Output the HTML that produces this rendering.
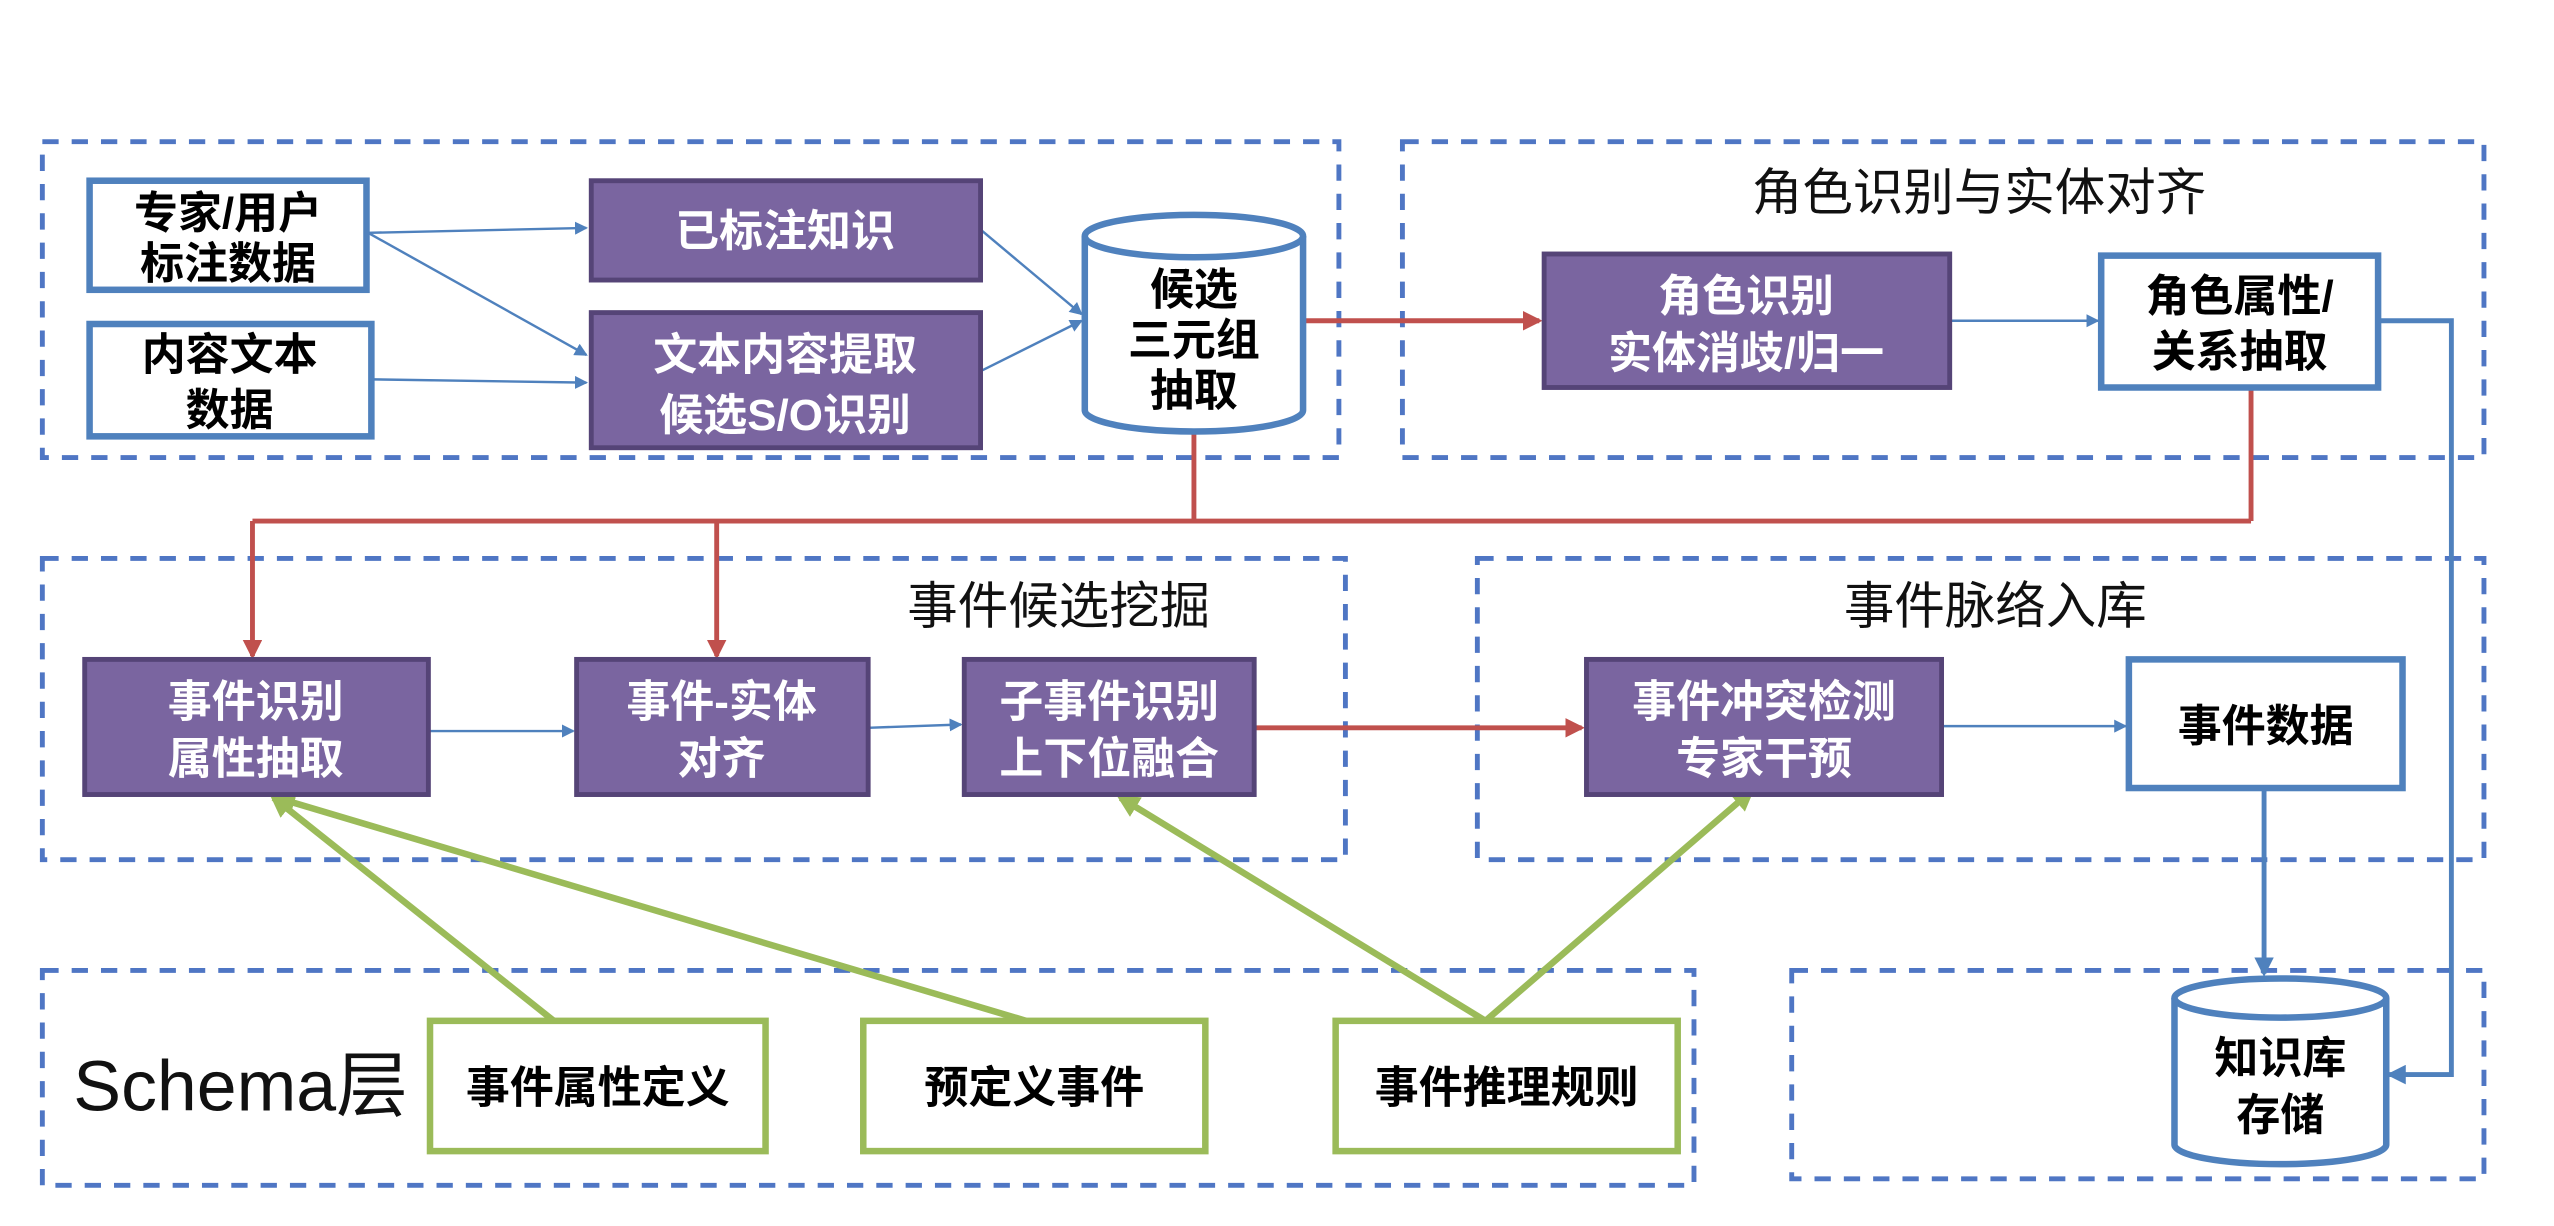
<!DOCTYPE html>
<html><head><meta charset="utf-8"><style>
html,body{margin:0;padding:0;background:#fff;}
svg{display:block;}
text{font-family:"Liberation Sans","Noto Sans CJK SC",sans-serif;}
.b{font-weight:bold;font-size:27px;text-anchor:middle;}
.w{fill:#fff;}
.t{font-size:31px;text-anchor:middle;fill:#111;}
</style></head><body>
<svg width="2554" height="1226" viewBox="0 0 1568 753" preserveAspectRatio="none" xmlns="http://www.w3.org/2000/svg">
<defs>
<marker id="ab" markerWidth="8" markerHeight="8" refX="7" refY="4" orient="auto" markerUnits="userSpaceOnUse"><path d="M0,0 L8,4 L0,8 z" fill="#4f81bd"/></marker>
<marker id="ab2" markerWidth="12" markerHeight="12" refX="10" refY="6" orient="auto" markerUnits="userSpaceOnUse"><path d="M0,0 L12,6 L0,12 z" fill="#4f81bd"/></marker>
<marker id="ar" markerWidth="12" markerHeight="12" refX="10" refY="6" orient="auto" markerUnits="userSpaceOnUse"><path d="M0,0 L12,6 L0,12 z" fill="#c0504d"/></marker>
<marker id="ag" markerWidth="14" markerHeight="14" refX="11" refY="7" orient="auto" markerUnits="userSpaceOnUse"><path d="M0,0 L14,7 L0,14 z" fill="#9bbb59"/></marker>
</defs>
<g fill="none" stroke="#4f76c4" stroke-width="3" stroke-dasharray="10,8">
<rect x="26" y="87" width="796" height="194"/>
<rect x="861" y="87" width="664" height="194"/>
<rect x="26" y="343" width="800" height="185"/>
<rect x="907" y="343" width="618" height="185"/>
<rect x="26" y="596" width="1014" height="132"/>
<rect x="1100" y="596" width="425" height="128"/>
</g>
<text x="1215" y="129" class="t">角色识别与实体对齐</text>
<text x="650" y="383" class="t">事件候选挖掘</text>
<text x="1225" y="383" class="t">事件脉络入库</text>
<text x="45" y="682" font-size="44" fill="#111">Schema层</text>

<g stroke="#4f81bd" stroke-width="1.5" fill="none" marker-end="url(#ab)">
<line x1="226" y1="143" x2="360" y2="140"/>
<line x1="226" y1="143" x2="360" y2="218"/>
<line x1="229" y1="233" x2="360" y2="235"/>
<line x1="602" y1="141" x2="664" y2="193"/>
<line x1="602" y1="228" x2="664" y2="197"/>
<line x1="263" y1="449" x2="352" y2="449"/>
<line x1="533" y1="447" x2="590" y2="445"/>
<line x1="1192" y1="446" x2="1305" y2="446"/>
<line x1="1197" y1="197" x2="1288" y2="197"/>
</g>
<g stroke="#4f81bd" stroke-width="3" fill="none" marker-end="url(#ab2)">
<line x1="1390" y1="484" x2="1390" y2="598"/>
<polyline points="1460,197 1505,197 1505,660 1467,660"/>
</g>
<g stroke="#c0504d" stroke-width="3" fill="none">
<line x1="800" y1="197" x2="945" y2="197" marker-end="url(#ar)"/>
<line x1="733" y1="265" x2="733" y2="320"/>
<line x1="1382" y1="238" x2="1382" y2="320"/>
<line x1="155" y1="320" x2="1382" y2="320"/>
<line x1="155" y1="320" x2="155" y2="403" marker-end="url(#ar)"/>
<line x1="440" y1="320" x2="440" y2="403" marker-end="url(#ar)"/>
<line x1="770" y1="447" x2="971" y2="447" marker-end="url(#ar)"/>
</g>
<g stroke="#9bbb59" stroke-width="4" fill="none" marker-end="url(#ag)">
<line x1="340" y1="627" x2="168" y2="490"/>
<line x1="630" y1="627" x2="170" y2="490"/>
<line x1="912" y1="627" x2="688" y2="490"/>
<line x1="912" y1="627" x2="1075" y2="486"/>
</g>

<g fill="#fff" stroke="#4f81bd" stroke-width="4">
<rect x="55" y="111" width="170" height="67"/>
<rect x="55" y="199" width="173" height="69"/>
<rect x="1290" y="157" width="170" height="81"/>
<rect x="1307" y="405" width="168" height="79"/>
</g>
<text class="b" x="140" y="140">专家/用户</text><text class="b" x="140" y="171">标注数据</text>
<text class="b" x="141" y="227">内容文本</text><text class="b" x="141" y="261">数据</text>
<text class="b" x="1375" y="191">角色属性/</text><text class="b" x="1375" y="225">关系抽取</text>
<text class="b" x="1391" y="455">事件数据</text>

<g fill="#7a65a0" stroke="#554477" stroke-width="3">
<rect x="363" y="111" width="239" height="61"/>
<rect x="363" y="192" width="239" height="83"/>
<rect x="948" y="156" width="249" height="82"/>
<rect x="52" y="405" width="211" height="83"/>
<rect x="354" y="405" width="179" height="83"/>
<rect x="592" y="405" width="178" height="83"/>
<rect x="974" y="405" width="218" height="83"/>
</g>
<g class="w">
<text class="b w" x="482" y="151">已标注知识</text>
<text class="b w" x="482" y="227">文本内容提取</text><text class="b w" x="482" y="264">候选S/O识别</text>
<text class="b w" x="1072" y="191">角色识别</text><text class="b w" x="1072" y="226">实体消歧/归一</text>
<text class="b w" x="157" y="440">事件识别</text><text class="b w" x="157" y="475">属性抽取</text>
<text class="b w" x="443" y="440">事件-实体</text><text class="b w" x="443" y="475">对齐</text>
<text class="b w" x="681" y="440">子事件识别</text><text class="b w" x="681" y="475">上下位融合</text>
<text class="b w" x="1083" y="440">事件冲突检测</text><text class="b w" x="1083" y="475">专家干预</text>
</g>

<g fill="#fff" stroke="#4f81bd" stroke-width="4">
<path d="M666,145 L666,252 A67,13 0 0 0 800,252 L800,145"/>
<ellipse cx="733" cy="145" rx="67" ry="13"/>
<path d="M1335,613 L1335,703 A65,12 0 0 0 1465,703 L1465,613"/>
<ellipse cx="1400" cy="613" rx="65" ry="12"/>
</g>
<text class="b" x="733" y="187">候选</text><text class="b" x="733" y="218">三元组</text><text class="b" x="733" y="249">抽取</text>
<text class="b" x="1400" y="659">知识库</text><text class="b" x="1400" y="694">存储</text>

<g fill="#fff" stroke="#9bbb59" stroke-width="4">
<rect x="264" y="627" width="206" height="80"/>
<rect x="530" y="627" width="210" height="80"/>
<rect x="820" y="627" width="210" height="80"/>
</g>
<text class="b" x="367" y="677">事件属性定义</text>
<text class="b" x="635" y="677">预定义事件</text>
<text class="b" x="925" y="677">事件推理规则</text>
</svg>
</body></html>
